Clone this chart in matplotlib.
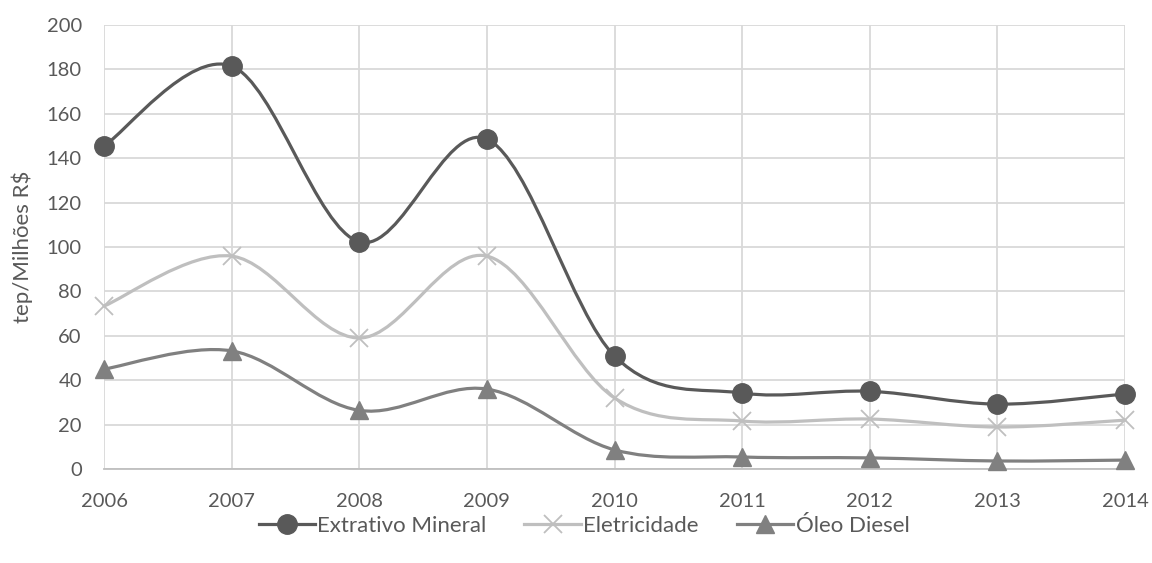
import matplotlib.pyplot as plt
from matplotlib.path import Path
from matplotlib.patches import PathPatch
from matplotlib.lines import Line2D

years = [2006, 2007, 2008, 2009, 2010, 2011, 2012, 2013, 2014]
extrativo = [145.5, 181.5, 102.3, 148.6, 50.9, 34.2, 35.0, 29.2, 33.8]
eletricidade = [73.4, 95.9, 59.0, 95.9, 32.0, 21.6, 22.5, 18.9, 22.0]
diesel = [45.0, 53.2, 26.4, 36.0, 8.6, 5.4, 5.0, 3.6, 4.0]

plt.rcParams['font.family'] = ['Lato', 'DejaVu Sans']
FS = 14.5


def smooth_path(xs, ys):
    # Excel-style smoothed line: cubic Bezier through every point
    pts = list(zip(xs, ys))
    n = len(pts)
    verts = [pts[0]]
    codes = [Path.MOVETO]
    for i in range(n - 1):
        p0 = pts[max(i - 1, 0)]
        p1 = pts[i]
        p2 = pts[i + 1]
        p3 = pts[min(i + 2, n - 1)]
        c1 = (p1[0] + (p2[0] - p0[0]) / 6, p1[1] + (p2[1] - p0[1]) / 6)
        c2 = (p2[0] - (p3[0] - p1[0]) / 6, p2[1] - (p3[1] - p1[1]) / 6)
        verts += [c1, c2, p2]
        codes += [Path.CURVE4] * 3
    return Path(verts, codes)


fig = plt.figure(figsize=(11.52, 5.63), dpi=100)
ax = fig.add_axes([0.0903, 0.167, 0.8863, 0.7886])

series = [
    ("Extrativo Mineral", extrativo, '#595959', 'o', 14),
    ("Eletricidade", eletricidade, '#BFBFBF', 'x', 13),
    ("Óleo Diesel", diesel, '#808080', '^', 13),
]

handles = []
for name, vals, col, mk, ms in series:
    ax.add_patch(PathPatch(smooth_path(years, vals), fill=False, edgecolor=col,
                           linewidth=2.3, capstyle='round', zorder=3, clip_on=False))
    mew = 1.3 if mk == 'x' else 1
    ax.plot(years, vals, linestyle='none', marker=mk, markersize=ms, color=col,
            markeredgewidth=mew, zorder=4, clip_on=False)
    handles.append(Line2D([], [], color=col, linewidth=2.3, marker=mk, markersize=ms,
                          markeredgewidth=mew))

ax.set_xlim(2006, 2014)
ax.set_ylim(0, 200)
ax.set_xticks(years)
ax.set_yticks(range(0, 201, 20))
ax.grid(True, color='#D9D9D9', linewidth=1.3)
ax.set_axisbelow(True)
for s in ['top', 'right', 'left']:
    ax.spines[s].set_visible(False)
ax.spines['bottom'].set_color('#BFBFBF')
ax.spines['bottom'].set_linewidth(1.3)
ax.tick_params(axis='y', length=0, labelsize=FS, colors='#595959', pad=16)
ax.tick_params(axis='x', length=0, labelsize=FS, colors='#595959', pad=17)
ax.set_ylabel("tep/Milhões R$", fontsize=16, color='#595959', labelpad=10)

ax.legend(handles, [s[0] for s in series], loc='center', bbox_to_anchor=(0.47, -0.128),
          ncol=3, frameon=False, fontsize=16, labelcolor='#595959',
          handlelength=2.55, handletextpad=0.1, columnspacing=1.7)

fig.savefig("out.png", dpi=100)
